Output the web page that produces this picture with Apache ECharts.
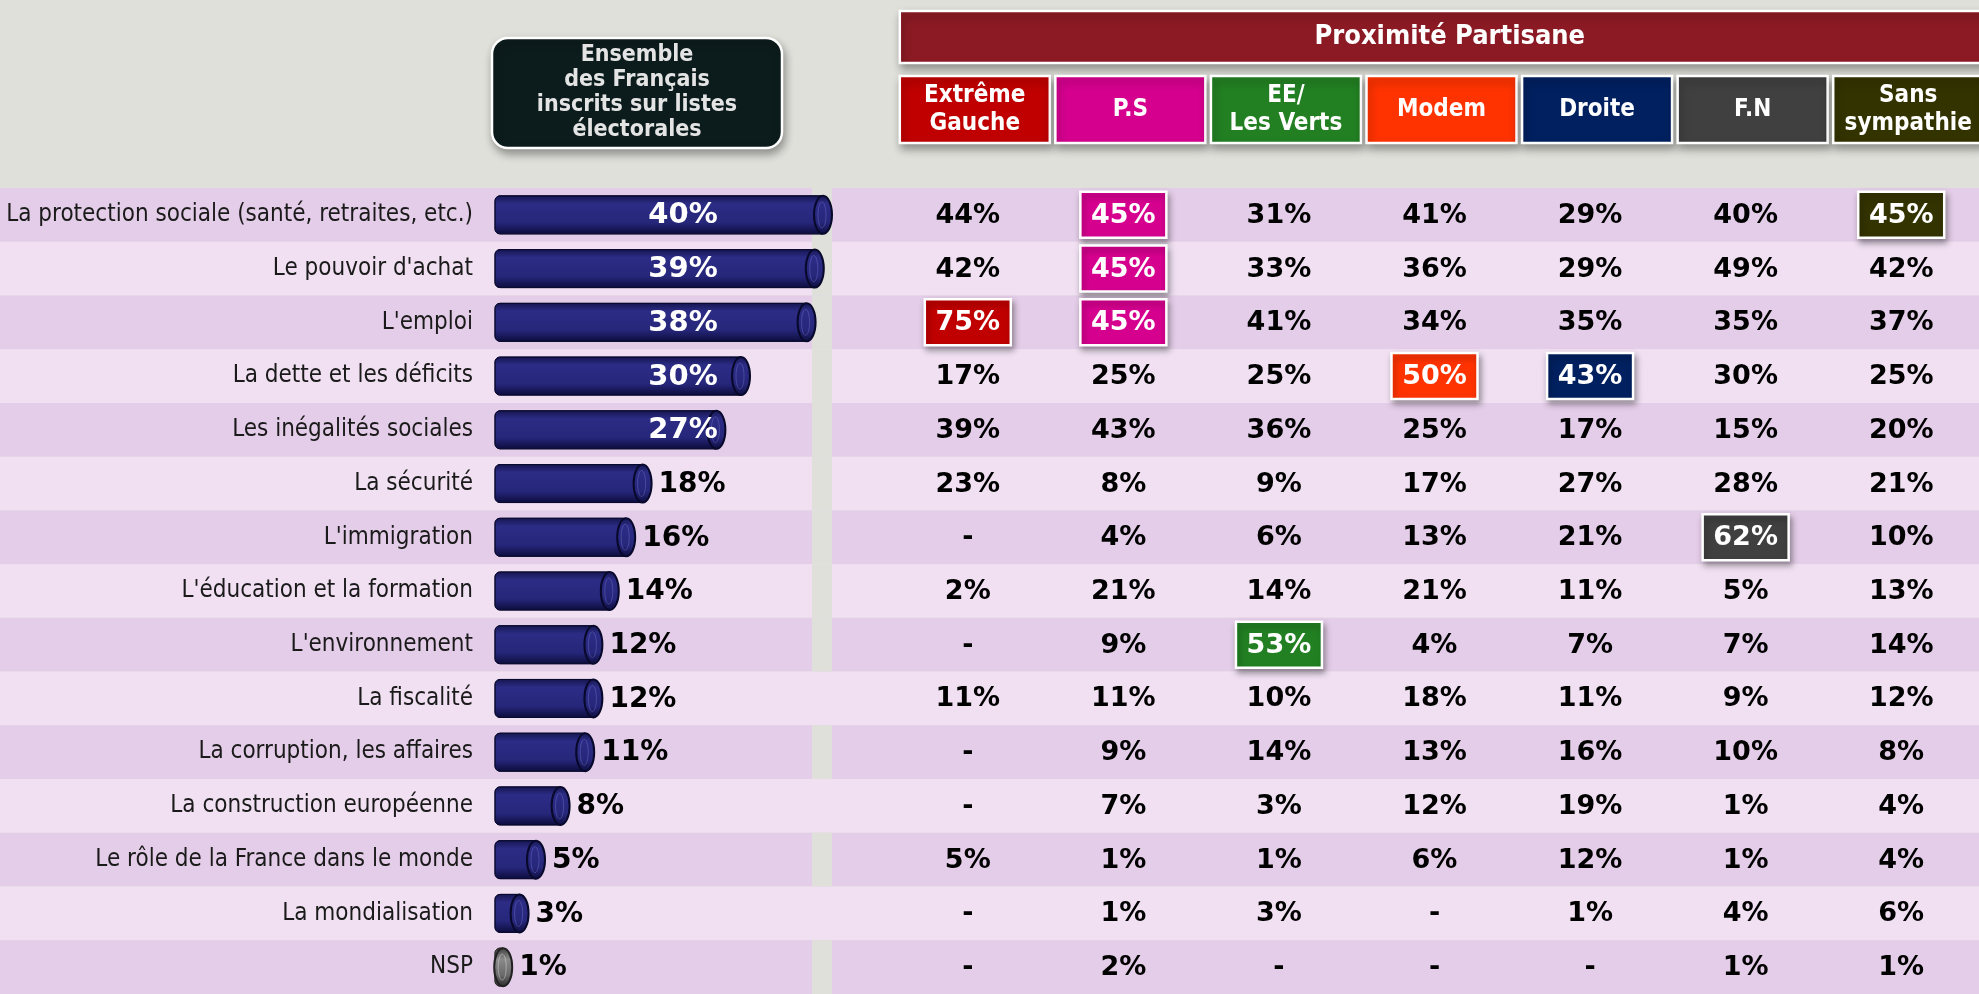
<!DOCTYPE html>
<html>
<head>
<meta charset="utf-8">
<script src="https://cdn.jsdelivr.net/npm/echarts@6/dist/echarts.min.js"></script>
<style>
  html, body { margin: 0; padding: 0; background: #e0e0db; }
  #chart { width: 1979px; height: 994px; }
</style>
</head>
<body>
<div id="chart"></div>
<script>
const topics = [
  'La protection sociale (santé, retraites, etc.)',
  "Le pouvoir d'achat",
  "L'emploi",
  'La dette et les déficits',
  'Les inégalités sociales',
  'La sécurité',
  "L'immigration",
  "L'éducation et la formation",
  "L'environnement",
  'La fiscalité',
  'La corruption, les affaires',
  'La construction européenne',
  'Le rôle de la France dans le monde',
  'La mondialisation',
  'NSP'
];
const ensemble = [40, 39, 38, 30, 27, 18, 16, 14, 12, 12, 11, 8, 5, 3, 1];

const parties = ['Extrême\nGauche', 'P.S', 'EE/\nLes Verts', 'Modem', 'Droite', 'F.N', 'Sans\nsympathie'];
const partyColors = ['#c00000', '#d6008f', '#228022', '#ff3300', '#002060', '#404040', '#333300'];

// null = "-" in the table
const extremeGauche = [44, 42, 75, 17, 39, 23, null, 2, null, 11, null, null, 5, null, null];
const ps            = [45, 45, 45, 25, 43, 8, 4, 21, 9, 11, 9, 7, 1, 1, 2];
const eeVerts       = [31, 33, 41, 25, 36, 9, 6, 14, 53, 10, 14, 3, 1, 3, null];
const modem         = [41, 36, 34, 50, 25, 17, 13, 21, 4, 18, 13, 12, 6, null, null];
const droite        = [29, 29, 35, 43, 17, 27, 21, 11, 7, 11, 16, 19, 12, 1, null];
const fn            = [40, 49, 35, 30, 15, 28, 62, 5, 7, 9, 10, 1, 1, 4, 1];
const sansSympathie = [45, 42, 37, 25, 20, 21, 10, 13, 14, 12, 8, 4, 4, 6, 1];
const partyValues = [extremeGauche, ps, eeVerts, modem, droite, fn, sansSympathie];

// [row, column] of the boxed cells
const highlights = [[0, 1], [0, 6], [1, 1], [2, 0], [2, 1], [3, 3], [3, 4], [6, 5], [8, 2]];

// rows where the grey gap between bars and table shows through
const stripRows = [0, 1, 2, 3, 4, 5, 6, 7, 8, 10, 12, 14];

const BG = '#e0e0db';
const TOP = 188;
const LABEL_FONT = '"Liberation Sans Narrow", "DejaVu Sans Condensed", sans-serif';
const HEAD_FONT = '"DejaVu Sans Condensed", "DejaVu Sans", sans-serif';
const NUM_FONT = '"DejaVu Sans", sans-serif';

const cells = [];
partyValues.forEach((col, c) => {
  col.forEach((v, r) => {
    const hl = highlights.some(h => h[0] === r && h[1] === c);
    cells.push({ c, r, v, hl });
  });
});

const chart = echarts.init(document.getElementById('chart'));

const catAxis = (gridIndex, show) => ({
  type: 'category',
  gridIndex,
  data: topics,
  inverse: true,
  axisLine: { show: false },
  axisTick: { show: false },
  axisLabel: show
    ? { color: '#1a1a1a', fontSize: 24, fontFamily: LABEL_FONT, margin: 31 }
    : { show: false },
  splitLine: { show: false },
  splitArea: gridIndex === 0
    ? { show: true, interval: 0, areaStyle: { color: ['#e4cde8', '#f0e0f2'] } }
    : { show: false }
});

chart.setOption({
  backgroundColor: BG,
  animation: false,
  grid: [
    { left: 0, right: 0, top: TOP, bottom: 0 },
    { left: 504, width: 328, top: TOP, bottom: 0 },
    { left: 890, right: 0, top: TOP, bottom: 0 }
  ],
  xAxis: [
    { type: 'value', gridIndex: 0, min: 0, max: 1979, show: false },
    { type: 'value', gridIndex: 1, min: 0, max: 40, show: false },
    { type: 'category', gridIndex: 2, data: parties, show: false }
  ],
  yAxis: [catAxis(0, false), catAxis(1, true), catAxis(2, false)],
  series: [
    {
      // grey gap column
      type: 'custom',
      xAxisIndex: 0,
      yAxisIndex: 0,
      data: stripRows.map(r => [812, r]),
      renderItem: (params, api) => {
        const p = api.coord([api.value(0), api.value(1)]);
        const h = api.size([0, 1])[1];
        return { type: 'rect', shape: { x: p[0], y: p[1] - h / 2, width: 20, height: h }, style: { fill: BG } };
      }
    },
    {
      // cylinder bars, "Ensemble des Français"
      type: 'custom',
      xAxisIndex: 1,
      yAxisIndex: 1,
      data: ensemble.map((v, i) => [v, i]),
      renderItem: (params, api) => {
        const v = api.value(0);
        const i = api.value(1);
        const end = api.coord([v, i]);
        const start = api.coord([0, i]);
        const h = 38;
        const cap = 9;
        const x0 = start[0] - 9;
        const x1 = end[0];
        const yc = end[1];
        const nsp = topics[i] === 'NSP';
        const body = nsp
          ? [{ offset: 0, color: '#3a3a3a' }, { offset: 0.3, color: '#8a8a8a' }, { offset: 0.7, color: '#6a6a6a' }, { offset: 1, color: '#2a2a2a' }]
          : [{ offset: 0, color: '#15154f' }, { offset: 0.22, color: '#2c2c86' }, { offset: 0.7, color: '#26267a' }, { offset: 1, color: '#0c0c3c' }];
        const children = [
          {
            type: 'rect',
            shape: { x: x0, y: yc - h / 2, width: Math.max(x1 - cap - x0, 0), height: h, r: [5, 0, 0, 5] },
            style: { fill: new echarts.graphic.LinearGradient(0, 0, 0, 1, body), stroke: nsp ? '#333' : '#0a0a30', lineWidth: 1 }
          },
          {
            type: 'ellipse',
            shape: { cx: x1 - cap, cy: yc, rx: cap, ry: h / 2 },
            style: { fill: new echarts.graphic.LinearGradient(0, 0, 0, 1, body), stroke: nsp ? '#222' : '#08082a', lineWidth: 2 }
          },
          {
            type: 'ellipse',
            shape: { cx: x1 - cap - 1, cy: yc, rx: cap - 5, ry: h / 2 - 6 },
            style: { fill: 'none', stroke: nsp ? 'rgba(255,255,255,0.35)' : 'rgba(120,120,210,0.4)', lineWidth: 1 }
          }
        ];
        const inside = v > 20;
        children.push({
          type: 'text',
          style: {
            text: v + '%',
            x: inside ? x0 + 188 : x1 + 7,
            y: yc + 1,
            align: inside ? 'center' : 'left',
            verticalAlign: 'middle',
            fill: inside ? '#ffffff' : '#000000',
            font: 'bold ' + (inside ? 29 : 28) + 'px ' + NUM_FONT
          }
        });
        return { type: 'group', children };
      }
    },
    {
      // table by party
      type: 'custom',
      xAxisIndex: 2,
      yAxisIndex: 2,
      data: cells.map(d => [d.c, d.r]),
      renderItem: (params, api) => {
        const d = cells[params.dataIndex];
        const p = api.coord([api.value(0), api.value(1)]);
        const children = [];
        if (d.hl) {
          children.push({
            type: 'rect',
            shape: { x: p[0] - 43, y: p[1] - 23, width: 86, height: 46 },
            style: {
              fill: partyColors[d.c], stroke: '#ffffff', lineWidth: 2.5,
              shadowBlur: 6, shadowOffsetX: 2, shadowOffsetY: 4, shadowColor: 'rgba(0,0,0,0.35)'
            }
          });
        }
        children.push({
          type: 'text',
          style: {
            text: d.v == null ? '-' : d.v + '%',
            x: p[0], y: p[1] + 1,
            align: 'center', verticalAlign: 'middle',
            fill: d.hl ? '#ffffff' : '#000000',
            font: 'bold 27px ' + NUM_FONT
          }
        });
        return { type: 'group', children };
      }
    }
  ]
});

// headers placed from the table's own column scale
const colX = parties.map((_, i) => chart.convertToPixel({ xAxisIndex: 2 }, i));
const shadow = { shadowBlur: 8, shadowOffsetX: 2, shadowOffsetY: 5, shadowColor: 'rgba(0,0,0,0.35)' };
const headerBox = (x, y, w, h, fill, text, font, color, r, lh) => ({
  type: 'rect',
  shape: { x, y, width: w, height: h, r: r || 0 },
  style: Object.assign({ fill, stroke: '#ffffff', lineWidth: 2.5 }, shadow),
  textContent: { style: { text, fill: color || '#ffffff', font, align: 'center', verticalAlign: 'middle', lineHeight: lh || 28 } },
  textConfig: { position: 'inside' }
});

const graphics = [
  headerBox(492, 38, 290, 110, '#0c1c1c', 'Ensemble\ndes Français\ninscrits sur listes\nélectorales', 'bold 23px ' + HEAD_FONT, '#e4e4e4', 16, 25),
  headerBox(colX[0] + 7 - 75, 11, 1100, 52, '#8b1a24', 'Proximité Partisane', 'bold 27px ' + HEAD_FONT)
];
parties.forEach((name, i) => {
  graphics.push(headerBox(colX[i] + 7 - 75, 76, 150, 67, partyColors[i], name, 'bold 24px ' + HEAD_FONT));
});
chart.setOption({ graphic: graphics });

window.addEventListener('resize', () => chart.resize());
</script>
</body>
</html>
